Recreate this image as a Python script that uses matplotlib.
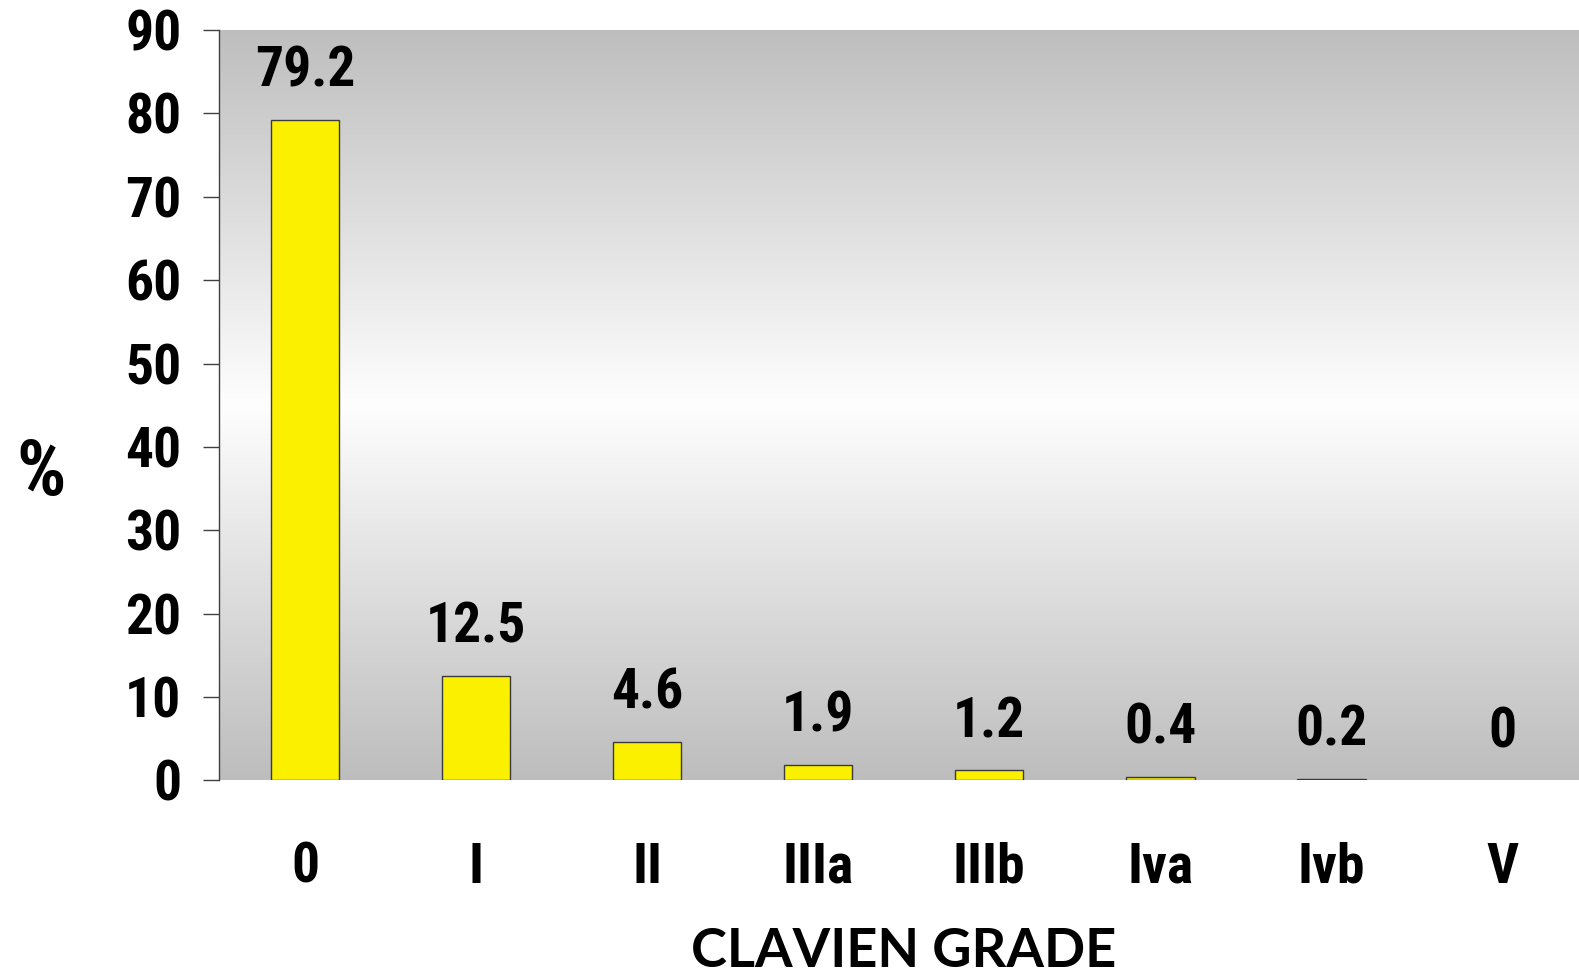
import numpy as np
import matplotlib
matplotlib.use("Agg")
import matplotlib.pyplot as plt
from matplotlib import font_manager
from matplotlib.colors import LinearSegmentedColormap

grades = ["0", "I", "II", "IIIa", "IIIb", "Iva", "Ivb", "V"]
percent = [79.2, 12.5, 4.6, 1.9, 1.2, 0.4, 0.2, 0]
value_labels = ["79.2", "12.5", "4.6", "1.9", "1.2", "0.4", "0.2", "0"]
yticks = [0, 10, 20, 30, 40, 50, 60, 70, 80, 90]

# pick a narrow face if the system has one
fonts = font_manager.fontManager.ttflist
names = {f.name for f in fonts}
narrow = "Liberation Sans"
for cand in ["Liberation Sans Narrow", "Roboto Condensed", "DejaVu Sans Condensed",
             "Open Sans Condensed"]:
    if cand in names:
        narrow = cand
        break
else:
    if any(f.name == "DejaVu Sans" and f.stretch == "condensed" for f in fonts):
        narrow = "DejaVu Sans"
title_font = "Lato" if "Lato" in names else "DejaVu Sans"

fig = plt.figure(figsize=(15.79, 9.75), dpi=100)
ax = fig.add_axes([0.139, 0.1996, 0.8667, 0.7695])

# grey -> white -> grey background of the plot area
cmap = LinearSegmentedColormap.from_list("bg", ["#bebebe", "#fefefe", "#bdbdbd"])
grad = np.linspace(0, 1, 256).reshape(-1, 1)
ax.imshow(grad, cmap=cmap, extent=(-0.5, 7.5, 0, 90), aspect="auto", zorder=0)

x = np.arange(len(grades))
lw = [1.0 if v > 0 else 0 for v in percent]
ax.bar(x, percent, width=0.4, color="#faf000", edgecolor="#3a3a3a", linewidth=lw, zorder=2)

for xi, v, lab in zip(x, percent, value_labels):
    ax.annotate(lab, (xi, v), xytext=(0, 24), textcoords="offset points",
                ha="center", va="baseline", fontsize=40, fontweight="bold",
                family=narrow, fontstretch="condensed", zorder=3)

ax.set_xlim(-0.5, 7.5)
ax.set_ylim(0, 90)
ax.set_yticks(yticks)
ax.set_xticks(x)
ax.set_xticklabels(grades)

for lab in ax.get_yticklabels() + ax.get_xticklabels():
    lab.set_family(narrow)
    lab.set_fontstretch("condensed")
    lab.set_fontweight("bold")
    lab.set_fontsize(40)

ax.tick_params(axis="y", length=11.5, width=1.0, color="#404040", pad=16)
ax.tick_params(axis="x", length=0, pad=44)

for s in ["top", "right", "bottom"]:
    ax.spines[s].set_visible(False)
ax.spines["left"].set_color("#404040")
ax.spines["left"].set_linewidth(1.0)

fig.text(0.026, 0.514, "%", fontsize=56, fontweight="bold", family=narrow,
         fontstretch="condensed", ha="center", va="center")
fig.text(0.572, 0.024, "CLAVIEN GRADE", fontsize=39, fontweight="bold",
         family=title_font, ha="center", va="center")

fig.savefig("out.png", dpi=100)
